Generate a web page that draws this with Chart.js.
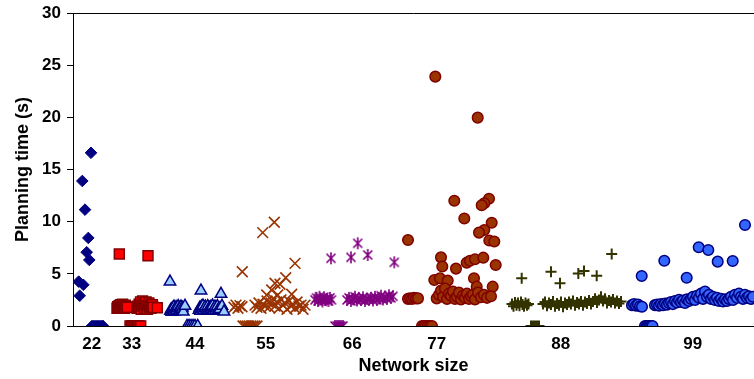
<!DOCTYPE html>
<html>
<head>
<meta charset="utf-8">
<script src="https://cdn.jsdelivr.net/npm/chart.js@4.4.0/dist/chart.umd.min.js"></script>
<style>
  body { margin: 0; background: #fff; }
  canvas { display: block; }
</style>
</head>
<body>
<canvas id="planChart" width="754" height="379"></canvas>
<script>
    // x = run index along the axis, y = planning time in seconds
    const tickLabels = ['22', '33', '44', '55', '66', '77', '88', '99'];
    const tickPos = [18.7, 58.7, 122, 192.7, 279.3, 363.7, 487.7, 619.7];
    const yTicks = [0, 5, 10, 15, 20, 25, 30];

    const net22 = [
        [5.7, 4.25], [6.7, 2.9], [9.3, 13.9], [10.3, 3.95], [12, 11.15], [13.7, 7.07],
        [15.3, 8.44], [16.3, 6.33], [18, 16.6],
        [19, 0], [21, 0], [23, 0], [25, 0], [27, 0], [29, 0], [30, 0]
    ];
    const net33 = [
        [46.3, 6.9], [75, 6.74],
        [44, 1.7], [44.7, 1.85], [45.4, 1.75], [46.1, 1.95], [46.8, 1.8], [47.5, 2.05], [48.2, 1.75],
        [48.9, 1.9], [49.6, 2.1], [50.3, 1.8], [51, 1.95], [51.7, 1.7], [52.4, 2.0], [53.1, 1.85], [54.3, 1.8],
        [64, 1.7], [64.7, 1.9], [65.4, 1.75], [66.1, 2.1], [66.8, 1.85], [67.5, 2.3], [68.2, 1.6],
        [68.9, 2.0], [69.6, 2.4], [70.3, 1.9], [71, 2.2], [71.7, 1.7], [72.4, 2.1], [73.1, 2.3],
        [73.8, 1.9], [74.5, 1.6], [75.2, 2.0], [75.9, 2.2], [76.6, 1.8], [77.3, 2.0], [78, 1.7],
        [78.7, 1.9], [79.4, 2.05], [80.1, 1.8], [84.3, 1.75],
        [57, 0], [58.5, 0], [60, 0], [61.5, 0], [63, 0], [64.5, 0], [66, 0], [67.7, 0]
    ];
    const net44 = [
        [97, 4.25], [128, 3.39], [148, 3.07],
        [97.5, 1.45], [98.2, 1.6], [98.9, 1.35], [99.6, 1.7], [100.3, 1.5], [101, 1.85], [101.7, 1.4],
        [102.4, 1.65], [103.1, 1.8], [103.8, 1.5], [104.5, 1.7], [105.2, 1.9], [105.9, 1.45],
        [106.6, 1.75], [107.3, 1.55], [108, 1.85], [108.7, 1.6], [109.4, 1.75], [110.3, 1.37], [112, 1.92],
        [126, 1.55], [126.8, 1.75], [127.6, 1.45], [128.4, 1.85], [129.2, 1.6], [130, 1.95],
        [130.8, 1.5], [131.6, 1.7], [132.4, 1.85], [133.2, 1.45], [134, 1.65], [134.8, 1.9],
        [135.6, 1.55], [136.4, 1.75], [137.2, 1.5], [138, 1.85], [138.8, 1.6], [139.6, 1.95],
        [140.4, 1.45], [141.2, 1.7], [142, 1.85], [142.8, 1.55], [143.6, 1.75], [144.4, 1.9],
        [145.2, 1.5], [146, 1.7], [146.8, 1.6], [149, 1.92], [151, 1.37],
        [114, 0], [116, 0], [118, 0], [120, 0], [122, 0], [124.7, 0]
    ];
    const net55 = [
        [201.3, 9.94], [189.7, 8.95], [169.3, 5.2], [222, 6.0], [212.7, 4.63], [207, 4.0],
        [202, 4.1], [198.7, 3.45], [204.7, 2.97], [193.7, 2.97], [218.7, 3.04],
        [161, 1.8], [163, 2.0], [165, 1.7], [167, 1.95], [169, 1.85],
        [182, 2.0], [184, 1.8], [186, 2.2], [188, 1.7], [190, 2.1], [192, 1.9], [194, 2.4],
        [196, 1.8], [198, 2.2], [200, 2.6], [202, 1.9], [204, 2.3], [206, 1.7], [208, 2.5],
        [210, 2.0], [212, 2.2], [214, 1.6], [216, 2.4], [218, 1.9], [220, 2.1], [222, 1.7],
        [224, 2.3], [226, 1.9], [228, 2.0], [230, 1.6], [232, 2.0],
        [170, 0], [172, 0], [174, 0], [176, 0], [178, 0], [180, 0], [182, 0], [184, 0]
    ];
    const net66 = [
        [258, 6.49], [278, 6.58], [284.7, 7.93], [294.7, 6.81], [321.3, 6.11],
        [242, 2.5], [243.5, 2.7], [245, 2.4], [246.5, 2.8], [248, 2.55], [249.5, 2.35],
        [251, 2.75], [252.5, 2.5], [254, 2.6], [255.5, 2.4], [257, 2.7], [258.5, 2.5],
        [274, 2.5], [276, 2.7], [278, 2.4], [280, 2.6], [282, 2.8], [284, 2.45], [286, 2.65],
        [288, 2.5], [290, 2.75], [292, 2.4], [294, 2.6], [296, 2.55], [298, 2.7], [300, 2.45],
        [302, 2.8], [304, 2.5], [306, 2.65], [308, 2.9], [310, 2.55], [312, 2.75], [314, 2.6],
        [316, 2.95], [318, 2.7], [320, 2.85],
        [262, 0], [264, 0], [266, 0], [268, 0], [270, 0]
    ];
    const net77 = [
        [362.3, 23.9], [404.7, 19.97], [335, 8.25], [381.3, 12.0], [391.3, 10.3], [416, 12.2],
        [411.3, 11.76], [408.7, 11.57], [418.7, 9.9], [411.3, 9.2], [406, 8.95], [416.3, 8.2],
        [421.3, 8.1], [368, 6.58], [369.3, 5.7], [383, 5.5], [393.7, 6.07], [397, 6.26],
        [402, 6.4], [410.3, 6.55], [422.7, 5.85], [401, 4.57], [403.7, 3.77], [419.7, 3.77],
        [361.3, 4.41], [367, 4.57], [374.7, 4.35],
        [363.7, 2.65], [366, 3.0], [368, 3.4], [370, 2.8], [372, 3.6], [374, 2.6], [376, 3.1],
        [378, 2.9], [380, 3.3], [382, 2.6], [384, 2.8], [386, 3.2], [388, 2.55], [390, 2.9],
        [392, 2.7], [394, 3.1], [396, 2.6], [398, 2.85], [400, 3.0], [402, 2.55], [405, 3.2],
        [408, 2.75], [411, 3.0], [414, 2.7], [418, 2.85],
        [335, 2.6], [337, 2.65], [339, 2.6], [341, 2.7], [343, 2.65], [345, 2.65],
        [349, 0], [351, 0], [353, 0], [355, 0], [357, 0], [359, 0]
    ];
    const net88 = [
        [448.7, 4.57], [478, 5.2], [487, 4.09], [505.3, 5.04], [511, 5.27], [523.7, 4.82], [538.7, 6.9],
        [439, 2.1], [440.5, 1.9], [442, 2.25], [443.5, 2.0], [445, 2.2], [446.5, 1.95], [448, 2.3],
        [449.5, 2.05], [451, 1.9], [452.5, 2.2], [454, 2.0], [455.5, 2.1],
        [470, 2.1], [472, 2.3], [474, 1.95], [476, 2.2], [478, 2.05], [480, 2.35], [482, 1.9],
        [484, 2.15], [486, 2.0], [488, 2.3], [490, 1.85], [492, 2.2], [494, 2.05], [496, 2.3],
        [498, 2.1], [500, 2.4], [502, 2.0], [504, 2.25], [506, 2.1], [508, 2.35], [510, 2.0],
        [512, 2.3], [514, 2.15], [516, 2.45], [518, 2.1], [520, 2.35], [522, 2.6], [524, 2.25],
        [526, 2.5], [528, 2.8], [530, 2.4], [532, 2.6], [534, 2.2], [536, 2.45], [538, 2.3],
        [540, 2.55], [542, 2.2], [544, 2.4], [546, 2.15], [548, 2.35],
        [458, 0], [460, 0], [462, 0], [464, 0], [466, 0]
    ];
    const net99 = [
        [672, 9.68], [568.7, 4.79], [591.3, 6.26], [613.7, 4.63], [625.7, 7.55], [635.3, 7.29],
        [644.7, 6.17], [659.7, 6.23],
        [559, 2.0], [561, 2.1], [563, 1.95], [565, 2.05], [567, 1.9], [569, 1.85],
        [582, 2.0], [584, 2.05], [586, 1.95], [588, 2.1], [590, 2.0], [592, 2.15], [594, 2.05],
        [596, 2.2], [598, 2.3], [600, 2.1], [602, 2.4], [604, 2.25], [606, 2.5], [608, 2.3],
        [610, 2.45], [612, 2.2], [614, 2.55], [616, 2.4], [618, 2.6], [620, 2.8], [622, 2.5],
        [624, 2.9], [626, 2.7], [628, 3.1], [630, 2.6], [632, 3.3], [634, 2.8], [636, 3.0],
        [638, 2.6], [640, 2.8], [642, 2.5], [644, 2.7], [646, 2.4], [648, 2.6], [650, 2.35],
        [652, 2.55], [654, 2.4], [656, 2.6], [658, 2.8], [660, 2.5], [662, 3.0], [664, 2.7],
        [666, 3.1], [668, 2.8], [670, 2.6], [672, 3.0], [674, 2.7], [676, 2.85], [678, 2.6], [680, 2.8],
        [572, 0], [573.5, 0], [575, 0], [576.5, 0], [578, 0], [579.5, 0]
    ];

    const FONT = '"Liberation Sans", Arial, sans-serif';

    // Excel style asterisk: X plus a vertical bar
    function makeAsterisk(color) {
        const c = document.createElement('canvas');
        c.width = 14; c.height = 14;
        const g = c.getContext('2d');
        g.strokeStyle = color;
        g.lineWidth = 1.6;
        g.beginPath();
        g.moveTo(7, 1); g.lineTo(7, 13);
        g.moveTo(2.5, 2.5); g.lineTo(11.5, 11.5);
        g.moveTo(11.5, 2.5); g.lineTo(2.5, 11.5);
        g.stroke();
        return c;
    }

    function toPoints(arr) {
        return arr.map(p => ({ x: p[0], y: p[1] }));
    }

    function series(label, arr, style) {
        return Object.assign({ label: label, data: toPoints(arr), showLine: false }, style);
    }

    const topBorder = {
        id: 'topBorder',
        afterDraw(chart) {
            const { ctx, chartArea } = chart;
            ctx.save();
            ctx.strokeStyle = '#000';
            ctx.lineWidth = 1;
            ctx.beginPath();
            ctx.moveTo(chartArea.left, chartArea.top + 0.5);
            ctx.lineTo(chartArea.right, chartArea.top + 0.5);
            ctx.stroke();
            ctx.restore();
        }
    };

    const ctx = document.getElementById('planChart').getContext('2d');
    new Chart(ctx, {
        type: 'scatter',
        data: {
            datasets: [
                series('22', net22, { pointStyle: 'rectRot', pointRadius: 5.8, backgroundColor: '#000080', borderColor: '#000080', borderWidth: 1 }),
                series('33', net33, { pointStyle: 'rect', pointRadius: 7, backgroundColor: '#FF0000', borderColor: '#800000', borderWidth: 1.5 }),
                series('44', net44, { pointStyle: 'triangle', pointRadius: 6.6, backgroundColor: '#99CCFF', borderColor: '#000080', borderWidth: 1.5 }),
                series('55', net55, { pointStyle: 'crossRot', pointRadius: 7.6, backgroundColor: '#993300', borderColor: '#993300', borderWidth: 1.6 }),
                series('66', net66, { pointStyle: makeAsterisk('#800080'), pointRadius: 7, backgroundColor: '#800080', borderColor: '#800080' }),
                series('77', net77, { pointStyle: 'circle', pointRadius: 5.3, backgroundColor: '#993300', borderColor: '#800000', borderWidth: 1.5 }),
                series('88', net88, { pointStyle: 'cross', pointRadius: 5.5, backgroundColor: '#333300', borderColor: '#333300', borderWidth: 2 }),
                series('99', net99, { pointStyle: 'circle', pointRadius: 5.3, backgroundColor: '#3366FF', borderColor: '#000080', borderWidth: 1.5 })
            ]
        },
        options: {
            responsive: false,
            animation: false,
            events: [],
            layout: { padding: 0, autoPadding: false },
            plugins: {
                legend: { display: false },
                tooltip: { enabled: false }
            },
            scales: {
                x: {
                    type: 'linear',
                    min: 0,
                    max: 681,
                    afterFit: s => { s.height = 53; s.paddingLeft = 0; s.paddingRight = 0; },
                    afterBuildTicks: s => { s.ticks = tickPos.map(v => ({ value: v })); },
                    grid: { display: false, drawTicks: false },
                    border: { display: true, color: '#000', width: 1 },
                    ticks: {
                        autoSkip: false,
                        maxRotation: 0,
                        padding: 8,
                        color: '#000',
                        font: { family: FONT, size: 17, weight: 'bold' },
                        callback: (val, i) => tickLabels[i]
                    },
                    title: {
                        display: true,
                        text: 'Network size',
                        color: '#000',
                        padding: { top: 2, bottom: 2 },
                        font: { family: FONT, size: 18, weight: 'bold' }
                    }
                },
                y: {
                    min: 0,
                    max: 30,
                    afterFit: s => { s.width = 73; s.paddingTop = 13; s.paddingBottom = 0; },
                    afterBuildTicks: s => { s.ticks = yTicks.map(v => ({ value: v })); },
                    grid: { display: true, drawOnChartArea: false, drawTicks: true, tickLength: 6, color: '#000' },
                    border: { display: true, color: '#000', width: 1 },
                    ticks: {
                        padding: 6,
                        color: '#000',
                        font: { family: FONT, size: 17, weight: 'bold' }
                    },
                    title: {
                        display: true,
                        text: 'Planning time (s)',
                        color: '#000',
                        padding: { top: 12, bottom: 0 },
                        font: { family: FONT, size: 18, weight: 'bold' }
                    }
                }
            }
        },
        plugins: [topBorder]
    });
</script>
</body>
</html>
